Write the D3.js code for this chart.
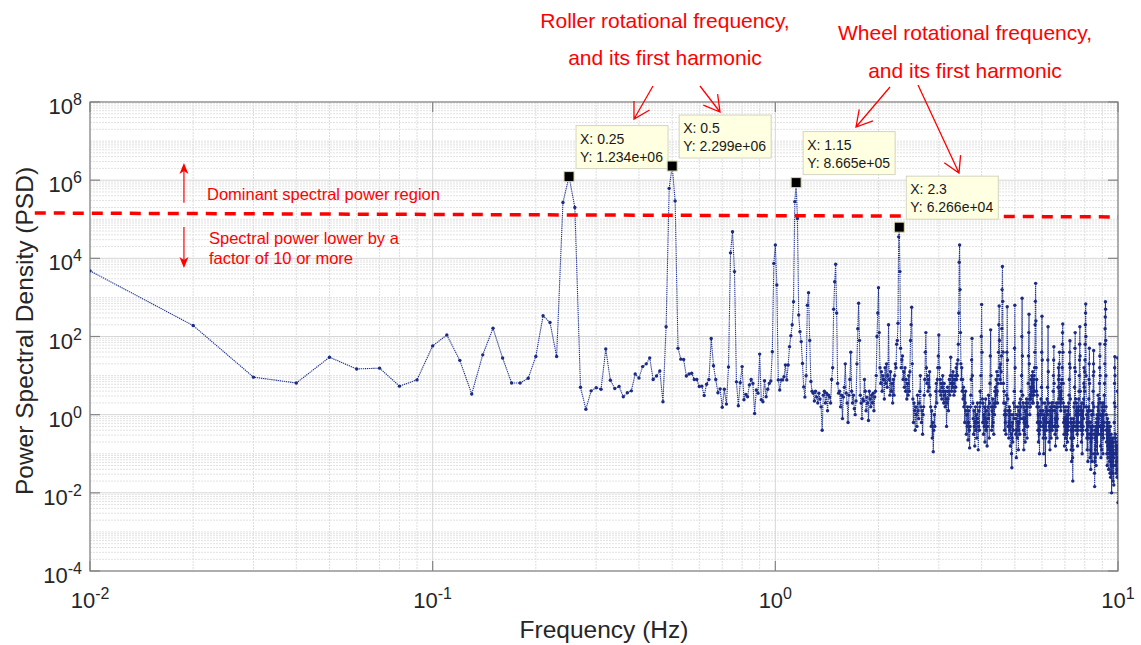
<!DOCTYPE html>
<html>
<head>
<meta charset="utf-8">
<script src="https://cdn.jsdelivr.net/npm/d3@7"></script>
<style>
  body { margin: 0; background: #fff; }
  svg { display: block; font-family: "Liberation Sans", Arial, sans-serif; }
</style>
</head>
<body>
<svg id="chart" width="1141" height="645"></svg>
<script>
// PSD values, stored as log10(PSD), one array per 1 Hz band (step 0.01 Hz)
const psdLog0to1 = [
  3.68, 2.28, 0.96, 0.81, 1.47, 1.17, 1.19, 0.73, 0.89, 1.76,
  2.04, 1.39, 0.53, 1.53, 2.21, 1.45, 0.81, 0.81, 0.93, 1.49,
  2.53, 2.36, 1.49, 5.43, 6.0913, 5.30, 0.70, 0.14, 0.61, 0.69,
  0.65, 1.68, 0.88, 0.67, 0.72, 0.46, 0.56, 0.61, 1.04, 0.94,
  1.23, 1.30, 1.45, 0.90, 0.99, 1.12, 0.33, 2.25, 5.79, 6.3615,
  5.47, 1.70, 1.42, 1.41, 0.99, 1.04, 1.06, 0.90, 0.90, 0.72,
  0.73, 0.49, 0.78, 0.90, 1.95, 1.25, 0.90, 0.56, 0.66, 0.19,
  0.65, 0.27, 1.22, 4.14, 4.68, 3.66, 0.84, 0.23, 0.82, 1.23,
  0.38, 0.52, 0.46, 0.76, 0.90, 0.80, 0.03, 0.63, 0.55, 1.55,
  0.38, 0.33, 0.87, 0.46, 0.65, 0.80, 0.86, 1.61, 3.87, 4.34
];
const psdLog1to2 = [
  3.32, 0.89, 0.63, 0.89, 0.89, 0.97, 1.27, 0.89, 1.27, 1.74,
  2.02, 2.30, 2.89, 5.45, 5.9378, 5.02, 2.55, 2.12, 1.87, 1.31,
  0.71, 0.45, 1.00, 2.80, 3.12, 1.90, 0.85, 0.60, 0.55, 0.35,
  0.60, 0.45, 0.30, 0.55, 0.40, 0.20, -0.40, 0.50, 0.60, 0.30,
  0.55, 0.10, 0.50, 0.45, 0.30, 0.90, 1.20, 2.70, 3.40, 3.85,
  2.60, 0.80, 0.55, 0.60, 0.20, 0.50, -0.10, 0.45, 0.70, 1.30,
  0.55, 0.30, -0.20, 0.50, 0.90, 1.60, 0.60, 0.30, 0.50, 0.15,
  0.00, 0.35, 1.30, 2.20, 2.85, 1.90, 0.50, 0.30, -0.10, 0.40,
  0.35, 0.90, 0.60, 0.10, 0.45, 0.30, -0.15, 0.60, 0.40, 0.20,
  0.50, 0.30, 0.55, 0.10, 0.45, 0.60, 1.00, 2.00, 2.60, 3.25
];
const psdLog2to3 = [
  2.1, 1.2, 0.8, 1.1, 0.6, 1.0, 0.9, 0.4, 1.2, 0.8,
  1.3, 0.7, 1.0, 2.3, 0.9, 0.5, 1.1, 0.6, 0.8, 0.3,
  0.9, 0.5, 1.0, 1.3, 1.2, 1.8, 1.9, 2.34, 4.55, 4.797,
  3.66, 1.7, 1.2, 1.4, 1.5, 0.9, 1.1, 0.7, 1.2, 0.6,
  0.9, 0.4, 0.8, 0.5, 1.0, 0.6, 1.1, 1.9, 2.3, 2.75,
  1.3, 0.4, -0.2, 0.3, 0.1, -0.4, 0.2, 0.0, -0.3, 0.5,
  0.1, -0.1, 0.3, 0.6, 1.0, 0.2, -0.2, 0.1, -0.5, 0.0,
  0.2, 0.5, 0.9, 1.6, 2.1, 1.2, 0.8, 1.0, 0.6, 0.9,
  0.7, 1.1, 0.5, 0.2, -0.3, 0.1, -0.6, -0.2, -0.95, -0.4,
  0.0, -0.3, 0.2, 0.6, 0.8, 0.3, 0.9, 1.2, 1.5, 2.04
];
const psdLog3to4 = [
  1.2, 0.6, 0.9, 0.5, 0.8, 0.4, 0.7, 1.0, 0.6, 0.3,
  0.8, 0.5, 0.2, 0.6, 0.4, -0.3, 0.3, 0.7, 0.4, 0.1,
  0.6, 0.9, 0.5, 1.0, 1.47, 0.8, 0.6, 1.0, 0.7, 1.1,
  0.8, 0.5, 0.9, 0.6, 1.0, 0.7, 1.2, 0.9, 1.3, 1.0,
  1.4, 1.8, 2.6, 3.9, 4.34, 3.2, 2.1, 1.3, 0.9, 1.2,
  0.6, 0.9, 0.4, 0.7, 0.2, 0.5, -0.2, 0.3, 0.6, 0.1,
  -0.5, 0.0, -0.3, 0.2, -0.65, -0.2, 0.1, -0.4, -0.85, -0.3,
  0.2, 0.5, 0.9, 1.4, 1.95, 1.0, 0.3, -0.1, -0.5, 0.1,
  -0.3, -0.8, -0.2, 0.2, -0.4, 0.0, -0.6, -0.1, 0.3, -0.2,
  -0.9, -0.3, 0.1, -0.4, 0.2, 0.6, 0.3, 1.0, 2.0, 2.82
];
const psdLog4to5 = [
  1.6, 0.4, -0.2, 0.3, -0.5, 0.0, -0.3, 0.2, -0.7, -0.1,
  0.4, -0.4, 0.1, -0.2, -0.8, -0.3, 0.2, -0.1, 0.5, 0.0,
  -0.6, 0.3, 0.8, 1.5, 2.17, 1.0, 0.2, -0.4, 0.1, -0.3,
  0.4, -0.2, 0.2, -0.5, 0.3, 0.0, 0.6, 0.2, 0.7, 0.3,
  0.9, 0.5, 1.1, 0.6, 0.3, 0.8, 1.0, 1.6, 2.3, 2.78,
  1.9, 1.2, 0.9, 1.3, 0.8, 1.1, 1.5, 2.2, 3.2, 3.79,
  2.9, 1.6, 0.8, 0.3, 0.6, 0.0, -0.4, 0.1, -0.2, 0.3,
  -0.5, 0.0, 0.5, 1.6, 2.76, 1.4, 0.4, -0.3, 0.1, -0.6,
  -0.2, 0.2, -0.4, 0.1, -0.8, -0.3, 0.0, -0.5, -1.0, -1.36,
  -0.6, -0.2, -0.7, 0.0, -0.4, 0.3, -0.1, 0.6, 1.7, 2.8
];
const psdLog5to6 = [
  1.2, 0.2, -0.5, -0.1, -1.1, -0.4, 0.0, -0.6, -0.2, 0.2,
  -0.3, -0.9, -0.4, 0.1, -0.2, 0.3, -0.5, 0.0, 0.4, -0.1,
  0.2, 0.6, 1.0, 2.0, 2.98, 1.5, 0.5, -0.1, 0.3, -0.4,
  -0.9, -0.2, 0.2, -0.5, -0.1, -0.7, 0.1, -0.3, 0.3, -0.2,
  0.4, 0.0, -0.6, 0.2, -0.3, 0.3, 0.8, 1.5, 2.1, 2.57,
  1.3, 0.4, 0.0, 0.5, 0.2, 0.7, 0.4, 0.9, 0.5, 1.0,
  0.6, 0.3, 0.8, 1.1, 0.7, 0.3, 0.9, 0.5, 1.0, 0.6,
  1.2, 1.6, 2.3, 2.9, 3.36, 2.4, 1.2, 0.6, 0.9, 0.2,
  0.5, -0.2, 0.3, -0.4, 0.0, -0.7, -0.2, 0.2, -0.5, -1.0,
  -0.4, 0.0, -0.3, 0.1, -0.2, 0.4, 0.0, 0.7, 1.6, 2.52
];
const psdLog6to7 = [
  1.4, 0.3, -0.3, 0.1, -0.6, -0.1, -1.0, -0.4, 0.0, -0.5,
  -0.2, 0.3, -0.3, -1.3, -0.6, -0.1, 0.2, -0.4, 0.1, -0.2,
  0.4, 0.0, 0.7, 1.4, 2.25, 1.1, 0.3, -0.2, -0.7, -0.3,
  0.1, -0.4, -0.9, -0.2, 0.2, -0.3, 0.0, -0.6, -0.1, 0.3,
  -0.2, 0.2, -0.4, 0.1, -0.3, 0.3, 0.6, 1.0, 1.4, 1.74,
  0.8, 0.2, -0.3, 0.1, -0.5, -0.1, -0.8, -0.3, 0.2, -0.2,
  0.3, -0.4, 0.0, -0.6, -0.1, 0.2, -0.3, 0.3, 0.7, 1.2,
  0.9, 0.4, 1.0, 1.3, 1.6, 0.7, 0.3, 0.6, 0.2, 0.5,
  0.1, 0.6, 0.3, 0.8, 0.4, 0.9, 1.2, 1.8, 2.1, 2.32,
  1.6, 0.8, 0.3, -0.2, 0.2, -0.5, -0.1, -0.8, -0.3, 0.1
];
const psdLog7to8 = [
  -0.5, -0.1, -0.6, -0.2, 0.2, -0.4, -0.9, -0.3, 0.0, -0.5,
  -0.1, -0.7, -0.2, 0.1, -0.4, 0.2, -0.3, 0.3, 0.0, 0.5,
  0.9, 1.3, 1.6, 1.89, 1.2, 0.4, -0.2, -0.6, -0.1, -0.9,
  -0.4, -1.2, -0.6, -0.2, -0.8, -0.3, -1.1, -1.7, -0.9, -0.4,
  -0.1, -0.6, -0.2, 0.2, -0.3, 0.3, 0.7, 1.2, 1.7, 2.1,
  1.1, 0.4, 0.0, -0.4, 0.1, -0.3, 0.3, -0.2, 0.2, -0.5,
  0.0, -0.8, -0.3, 0.1, -0.4, 0.2, -0.2, 0.4, 0.0, 0.6,
  1.0, 1.4, 1.8, 2.25, 1.5, 0.6, 0.1, -0.3, 0.2, -0.4,
  0.0, -0.7, -0.2, 0.3, -0.3, -1.0, -0.5, 0.0, -0.4, 0.1,
  -0.3, 0.3, -0.1, 0.4, 0.8, 1.2, 0.7, 0.2, 0.6, 1.1
];
const psdLog8to9 = [
  1.4, 1.8, 2.3, 2.6, 2.83, 2.0, 1.0, 0.2, -0.4, 0.0,
  -0.6, -0.2, -0.9, -0.4, 0.1, -0.5, -1.2, -0.6, -0.2, 0.2,
  -0.3, 0.4, 0.9, 1.3, 1.7, 0.8, 0.1, -0.5, -1.1, -0.6,
  -0.2, -0.9, -1.4, -0.7, -0.3, -1.0, -0.5, 0.0, -0.6, -1.2,
  -0.4, 0.1, -0.3, 0.3, 0.0, 0.6, 1.0, 1.3, 1.64, 1.1,
  0.2, -0.5, -1.0, -1.5, -1.84, -1.2, -0.6, -1.1, -0.4, -0.9,
  -0.3, -0.8, -1.3, -0.6, -0.2, -0.7, -0.1, -0.5, 0.0, -0.4,
  -1.0, -0.3, 0.2, -0.2, 0.5, 0.1, -0.5, -0.1, 0.3, -0.3,
  0.0, 0.4, 0.8, 1.2, 1.5, 1.81, 1.0, 0.3, -0.3, -0.8,
  -0.3, -1.1, -0.5, 0.0, -0.4, -0.9, -0.3, 0.2, -0.2, 0.3
];
const psdLog9to10 = [
  -0.4, 0.1, -0.5, -1.0, -0.4, 0.0, -0.6, -0.2, 0.3, -0.3,
  0.1, 0.5, 0.2, 0.8, 1.3, 1.8, 2.2, 2.5, 2.89, 2.7,
  1.9, 1.0, 0.2, -0.4, 0.0, -0.7, -0.2, -1.0, -0.5, -1.3,
  -0.6, -0.1, -0.8, -0.3, -1.1, -0.5, -0.9, -0.4, -1.4, -0.7,
  -0.2, -0.8, -0.3, -1.0, -0.5, -1.2, -0.6, -1.5, -0.8, -0.3,
  -0.9, -1.6, -0.7, -1.1, -0.5, -1.3, -0.7, -2.0, -1.2, -0.6,
  -1.0, -1.5, -0.8, -1.2, -0.6, -1.0, -1.7, -0.9, -1.3, -0.7,
  -1.1, -1.8, -1.0, -0.6, -0.2, 0.3, 0.8, 1.2, 1.48, 1.0,
  0.2, -0.5, -1.0, -0.6, -1.3, -0.8, -1.5, -1.0, -0.7, -1.2,
  -0.8, -1.4, -0.9, -1.6, -1.1, -0.8, 0.6, 1.45, -1.2, -2.25
];

// data tips
const tipFreqs = [0.25, 0.5, 1.15, 2.3];
const tipValues = [1.234e6, 2.299e6, 8.665e5, 6.266e4];
const tipXLabels = ["X: 0.25", "X: 0.5", "X: 1.15", "X: 2.3"];
const tipYLabels = ["Y: 1.234e+06", "Y: 2.299e+06", "Y: 8.665e+05", "Y: 6.266e+04"];

// tick values
const xTicks = [0.01, 0.1, 1, 10];
const xTickExp = ["-2", "-1", "0", "1"];
const yTicks = [1e-4, 1e-2, 1, 1e2, 1e4, 1e6, 1e8];
const yTickExp = ["-4", "-2", "0", "2", "4", "6", "8"];

// threshold (dashed red) line, drawn slightly sloped as in the figure
const thresholdFreqs = [0.0069, 10];
const thresholdLog = [5.16, 5.06];

const psdLog = [].concat(psdLog0to1, psdLog1to2, psdLog2to3, psdLog3to4, psdLog4to5,
  psdLog5to6, psdLog6to7, psdLog7to8, psdLog8to9, psdLog9to10);
const data = psdLog.map((v, i) => ({ f: (i + 1) / 100, v: Math.pow(10, v) }));

const svg = d3.select("#chart");
const pL = 90, pR = 1118, pT = 102, pB = 571;

const x = d3.scaleLog().domain([0.01, 10]).range([pL, pR]);
const y = d3.scaleLog().domain([1e-4, 1e8]).range([pB, pT]);

svg.append("defs").append("clipPath").attr("id", "plotclip")
  .append("rect").attr("x", pL).attr("y", pT)
  .attr("width", pR - pL).attr("height", pB - pT);

// grid
const grid = svg.append("g");
const xMinor = [];
[0.01, 0.1, 1].forEach(d => { for (let k = 2; k <= 9; k++) xMinor.push(k * d); });
const yMinor = [];
for (let e = -4; e < 8; e++) {
  for (let k = 1; k <= 9; k++) {
    if (k === 1 && e % 2 === 0) continue;
    yMinor.push(k * Math.pow(10, e));
  }
}
grid.selectAll(".xminor").data(xMinor).enter().append("line")
  .attr("x1", d => x(d)).attr("x2", d => x(d))
  .attr("y1", pT).attr("y2", pB)
  .attr("stroke", "#dedede").attr("stroke-dasharray", "2,1");
grid.selectAll(".yminor").data(yMinor).enter().append("line")
  .attr("x1", pL).attr("x2", pR)
  .attr("y1", d => y(d)).attr("y2", d => y(d))
  .attr("stroke", "#e2e2e2").attr("stroke-dasharray", "2,1");
grid.selectAll(".xmajor").data(xTicks).enter().append("line")
  .attr("x1", d => x(d)).attr("x2", d => x(d))
  .attr("y1", pT).attr("y2", pB)
  .attr("stroke", "#d6d6d6");
grid.selectAll(".ymajor").data(yTicks).enter().append("line")
  .attr("x1", pL).attr("x2", pR)
  .attr("y1", d => y(d)).attr("y2", d => y(d))
  .attr("stroke", "#d6d6d6");

// axes box and inward ticks
svg.append("rect").attr("x", pL).attr("y", pT)
  .attr("width", pR - pL).attr("height", pB - pT)
  .attr("fill", "none").attr("stroke", "#858585").attr("stroke-width", 1.2);

const tickG = svg.append("g").attr("stroke", "#858585").attr("stroke-width", 1.2);
yTicks.forEach(t => {
  tickG.append("line").attr("x1", pL).attr("x2", pL + 10).attr("y1", y(t)).attr("y2", y(t));
  tickG.append("line").attr("x1", pR).attr("x2", pR - 10).attr("y1", y(t)).attr("y2", y(t));
});
xTicks.forEach(t => {
  tickG.append("line").attr("x1", x(t)).attr("x2", x(t)).attr("y1", pB).attr("y2", pB - 10);
  tickG.append("line").attr("x1", x(t)).attr("x2", x(t)).attr("y1", pT).attr("y2", pT + 10);
});

// tick labels
const yLab = svg.append("g").attr("fill", "#262626").attr("font-size", 22);
yTicks.forEach((t, i) => {
  const tx = yLab.append("text").attr("x", pL - 8).attr("y", y(t) + 12).attr("text-anchor", "end");
  tx.append("tspan").text("10");
  tx.append("tspan").attr("dy", -9).attr("font-size", 16).text(yTickExp[i]);
});
const xLab = svg.append("g").attr("fill", "#262626").attr("font-size", 22);
xTicks.forEach((t, i) => {
  const tx = xLab.append("text").attr("x", x(t)).attr("y", 608).attr("text-anchor", "middle");
  tx.append("tspan").text("10");
  tx.append("tspan").attr("dy", -9).attr("font-size", 16).text(xTickExp[i]);
});

// axis titles
svg.append("text").attr("x", 604).attr("y", 638).attr("text-anchor", "middle")
  .attr("font-size", 24.5).attr("fill", "#262626").text("Frequency (Hz)");
svg.append("text").attr("transform", "translate(33,331) rotate(-90)")
  .attr("text-anchor", "middle").attr("font-size", 24.5).attr("fill", "#262626")
  .text("Power Spectral Density (PSD)");

// PSD series
const plot = svg.append("g").attr("clip-path", "url(#plotclip)");
const line = d3.line().x(d => x(d.f)).y(d => y(d.v));
plot.append("path").datum(data).attr("d", line)
  .attr("fill", "none").attr("stroke", "#1f3290").attr("stroke-width", 1.1)
  .attr("stroke-dasharray", "1.3,0.8");
plot.selectAll(".pt").data(data).enter().append("circle")
  .attr("cx", d => x(d.f)).attr("cy", d => y(d.v)).attr("r", 1.7)
  .attr("fill", "#1a2a85");

// red dashed threshold line
const thr = thresholdFreqs.map((f, i) => ({ f: f, v: Math.pow(10, thresholdLog[i]) }));
svg.append("path").datum(thr).attr("d", line)
  .attr("fill", "none").attr("stroke", "#ff0000").attr("stroke-width", 3.5)
  .attr("stroke-dasharray", "11,8");

// region arrows (up / down) at left
const red = "#ff0000";
const arrowF = 0.0188;
function vArrow(fromLog, toLog) {
  const ax = x(arrowF), y0 = y(Math.pow(10, fromLog)), y1 = y(Math.pow(10, toLog));
  const dir = y1 < y0 ? -1 : 1;
  svg.append("line").attr("x1", ax).attr("x2", ax).attr("y1", y0).attr("y2", y1 - dir * 6)
    .attr("stroke", red).attr("stroke-width", 1.2);
  svg.append("path")
    .attr("d", `M${ax},${y1} L${ax - 4.5},${y1 - dir * 11} L${ax},${y1 - dir * 8} L${ax + 4.5},${y1 - dir * 11} Z`)
    .attr("fill", red);
}
vArrow(5.42, 6.44);
vArrow(4.80, 3.75);

const noteG = svg.append("g").attr("fill", red).attr("font-size", 16.5);
noteG.append("text").attr("x", 207).attr("y", 200).text("Dominant spectral power region");
noteG.append("text").attr("x", 209).attr("y", 244).text("Spectral power lower by a");
noteG.append("text").attr("x", 209).attr("y", 264).text("factor of 10 or more");

// top annotations
const topG = svg.append("g").attr("fill", red).attr("font-size", 21).attr("text-anchor", "middle");
topG.append("text").attr("x", 665).attr("y", 28).text("Roller rotational frequency,");
topG.append("text").attr("x", 665).attr("y", 65).text("and its first harmonic");
topG.append("text").attr("x", 965).attr("y", 40).text("Wheel rotational frequency,");
topG.append("text").attr("x", 965).attr("y", 78).text("and its first harmonic");

const pointerArrows = [
  [[653, 86], [634, 119]],
  [[700, 86], [720, 112]],
  [[890, 87], [856, 127]],
  [[918, 85], [959, 173]]
];
pointerArrows.forEach(([s, t]) => {
  const dx = s[0] - t[0], dy = s[1] - t[1], len = Math.hypot(dx, dy);
  const ux = dx / len, uy = dy / len, L = 18, a = 30 * Math.PI / 180;
  const w1 = [t[0] + L * (ux * Math.cos(a) - uy * Math.sin(a)), t[1] + L * (ux * Math.sin(a) + uy * Math.cos(a))];
  const w2 = [t[0] + L * (ux * Math.cos(-a) - uy * Math.sin(-a)), t[1] + L * (ux * Math.sin(-a) + uy * Math.cos(-a))];
  svg.append("path")
    .attr("d", `M${s[0]},${s[1]} L${t[0]},${t[1]} M${w1[0]},${w1[1]} L${t[0]},${t[1]} L${w2[0]},${w2[1]}`)
    .attr("fill", "none").attr("stroke", red).attr("stroke-width", 1.3);
});

// data tips
tipFreqs.forEach((f, i) => {
  const px = x(f), py = y(tipValues[i]);
  const g = svg.append("g");
  g.append("rect").attr("x", px + 7).attr("y", py - 51).attr("width", 92).attr("height", 43)
    .attr("fill", "#ffffe1").attr("stroke", "#d4d4c0").attr("stroke-width", 1);
  g.append("text").attr("x", px + 11).attr("y", py - 33).attr("font-size", 14).attr("fill", "#1a1a1a")
    .text(tipXLabels[i]);
  g.append("text").attr("x", px + 11).attr("y", py - 15).attr("font-size", 14).attr("fill", "#1a1a1a")
    .text(tipYLabels[i]);
  g.append("rect").attr("x", px - 5).attr("y", py - 5).attr("width", 10).attr("height", 10)
    .attr("fill", "#000").attr("stroke", "#d8d8b0").attr("stroke-width", 1);
});
</script>
</body>
</html>
